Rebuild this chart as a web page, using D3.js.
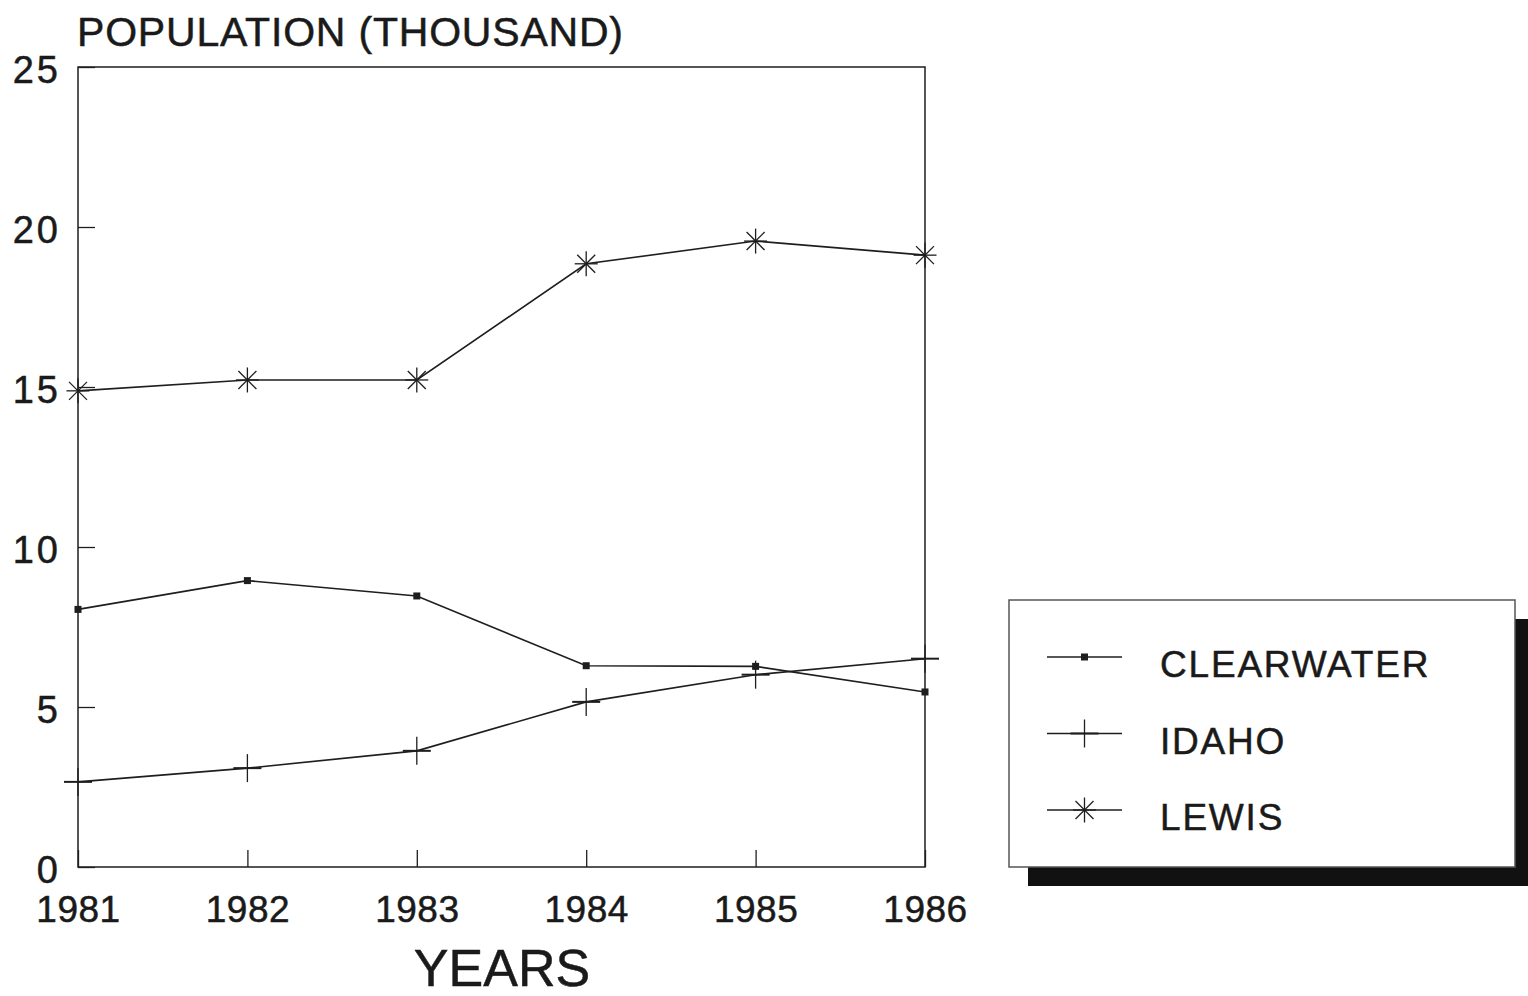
<!DOCTYPE html>
<html>
<head>
<meta charset="utf-8">
<script src="https://cdn.jsdelivr.net/npm/d3@7"></script>
<style>
  body { margin: 0; background: #fff; }
  text { fill: #1a1a1a; stroke: #1a1a1a; stroke-width: 0.5px; }
</style>
</head>
<body>
<div id="chart"></div>
<script>
// data
var years = [1981, 1982, 1983, 1984, 1985, 1986];
var clearwater = [8.05, 8.95, 8.47, 6.29, 6.27, 5.47];
var idaho = [2.66, 3.09, 3.63, 5.16, 6.01, 6.51];
var lewis = [14.88, 15.22, 15.22, 18.85, 19.56, 19.12];
var seriesNames = ["CLEARWATER", "IDAHO", "LEWIS"];
var yTicks = [0, 5, 10, 15, 20, 25];

var W = 1528, H = 996;
var margin = {top: 67, right: 603, bottom: 129, left: 78};
var ink = "#1e1e1e";
var font = "'Liberation Sans', Arial, sans-serif";

var svg = d3.select("#chart").append("svg")
  .attr("width", W).attr("height", H);

svg.append("rect").attr("width", W).attr("height", H).attr("fill", "#fff");

var x = d3.scaleLinear()
  .domain([years[0], years[years.length - 1]])
  .range([margin.left, W - margin.right]);

var y = d3.scaleLinear()
  .domain([0, 25])
  .range([H - margin.bottom, margin.top]);

// frame
svg.append("rect")
  .attr("x", x.range()[0]).attr("y", y.range()[1])
  .attr("width", x.range()[1] - x.range()[0])
  .attr("height", y.range()[0] - y.range()[1])
  .attr("fill", "none").attr("stroke", ink).attr("stroke-width", 1.5);

// axes, ticks point inwards
var xAxis = svg.append("g")
  .attr("transform", "translate(0," + y(0) + ")")
  .call(d3.axisBottom(x).tickValues(years).tickFormat(d3.format("d"))
    .tickSizeInner(-17).tickSizeOuter(0).tickPadding(29));
xAxis.select(".domain").remove();
xAxis.selectAll("line").attr("stroke", ink).attr("stroke-width", 1.3);
xAxis.selectAll("text")
  .attr("font-size", "37px").attr("font-family", font).attr("fill", ink)
  .attr("letter-spacing", "0.5px");

var yAxis = svg.append("g")
  .attr("transform", "translate(" + x(years[0]) + ",0)")
  .call(d3.axisLeft(y).tickValues(yTicks)
    .tickSizeInner(-17).tickSizeOuter(0).tickPadding(17));
yAxis.select(".domain").remove();
yAxis.selectAll("line").attr("stroke", ink).attr("stroke-width", 1.3);
yAxis.selectAll("text")
  .attr("font-size", "38px").attr("font-family", font).attr("fill", ink)
  .attr("dy", "0.42em").attr("letter-spacing", "3px");

// titles
svg.append("text")
  .attr("x", 77).attr("y", 46)
  .attr("font-size", "41px").attr("font-family", font)
  .attr("letter-spacing", "0.8px")
  .text("POPULATION (THOUSAND)");

svg.append("text")
  .attr("x", 502).attr("y", 986)
  .attr("text-anchor", "middle")
  .attr("font-size", "52px").attr("font-family", font)
  .text("YEARS");

// marker shapes
function drawMarker(g, kind, cx, cy) {
  if (kind === 0) {
    g.append("rect")
      .attr("x", cx - 3.5).attr("y", cy - 3.5)
      .attr("width", 7).attr("height", 7).attr("fill", ink);
  } else if (kind === 1) {
    g.append("line").attr("x1", cx - 14).attr("x2", cx + 14)
      .attr("y1", cy).attr("y2", cy)
      .attr("stroke", ink).attr("stroke-width", 2);
    g.append("line").attr("x1", cx).attr("x2", cx)
      .attr("y1", cy - 14).attr("y2", cy + 14)
      .attr("stroke", ink).attr("stroke-width", 1.3);
  } else {
    var arms = [[0, 12.5], [9, 9], [-9, 9], [11.5, 0]];
    arms.forEach(function(a) {
      g.append("line")
        .attr("x1", cx - a[0]).attr("y1", cy - a[1])
        .attr("x2", cx + a[0]).attr("y2", cy + a[1])
        .attr("stroke", ink).attr("stroke-width", 1.3);
    });
  }
}

var allSeries = [clearwater, idaho, lewis];
var line = d3.line()
  .x(function(d, i) { return x(years[i]); })
  .y(function(d) { return y(d); });

allSeries.forEach(function(vals, k) {
  var g = svg.append("g");
  g.append("path")
    .datum(vals)
    .attr("d", line)
    .attr("fill", "none")
    .attr("stroke", ink)
    .attr("stroke-width", 1.6);
  vals.forEach(function(v, i) {
    drawMarker(g, k, x(years[i]), y(v));
  });
});

// legend with drop shadow
var lg = svg.append("g");
lg.append("rect")
  .attr("x", 1028).attr("y", 619).attr("width", 520).attr("height", 267)
  .attr("fill", "#111");
lg.append("rect")
  .attr("x", 1009).attr("y", 600).attr("width", 506).attr("height", 267)
  .attr("fill", "#fff").attr("stroke", "#555").attr("stroke-width", 1.5);

seriesNames.forEach(function(name, k) {
  var ly = 657 + k * 76.5;
  lg.append("line")
    .attr("x1", 1047).attr("x2", 1122).attr("y1", ly).attr("y2", ly)
    .attr("stroke", ink).attr("stroke-width", 1.5);
  drawMarker(lg, k, 1084.5, ly);
  lg.append("text")
    .attr("x", 1160).attr("y", ly + 20)
    .attr("font-size", "37px").attr("font-family", font)
    .attr("letter-spacing", "1.8px")
    .text(name);
});
</script>
</body>
</html>
